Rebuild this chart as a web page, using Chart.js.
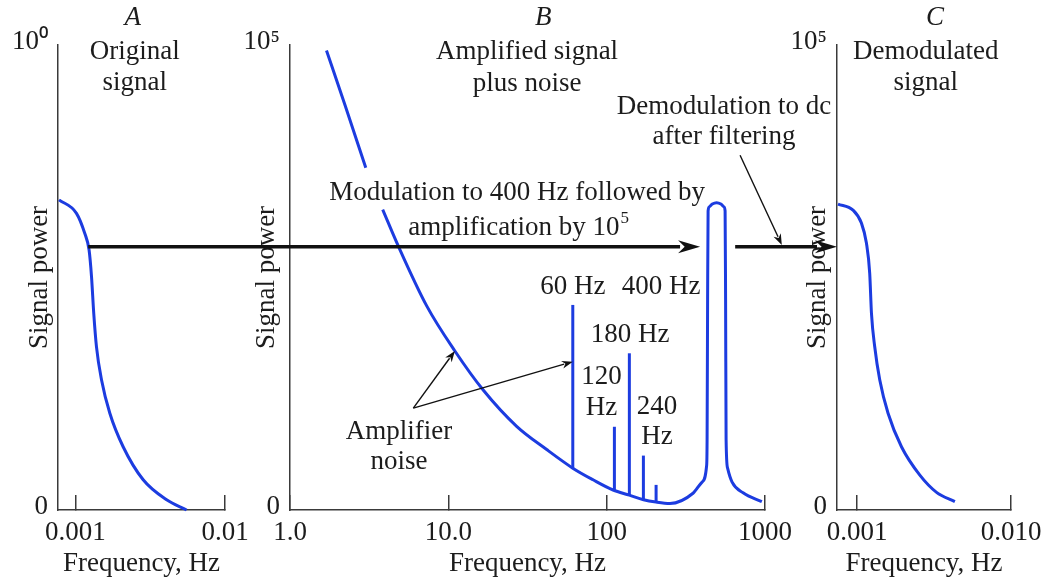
<!DOCTYPE html>
<html><head><meta charset="utf-8">
<script src="https://cdn.jsdelivr.net/npm/chart.js@4.4.0/dist/chart.umd.min.js"></script>
<style>
html,body{margin:0;padding:0;background:#fff;}
#wrap{position:relative;width:1043px;height:581px;overflow:hidden;background:#fff;}
canvas{position:absolute;left:0;top:0;}
</style></head><body>
<div id="wrap">
<canvas id="cA" width="1043" height="581"></canvas>
<canvas id="cB" width="1043" height="581"></canvas>
<canvas id="cC" width="1043" height="581"></canvas>
</div>
<script>
// ---------- data ----------
// Panel A: original signal
const freqA  = [0.000779, 0.001019, 0.001157, 0.001237, 0.001284, 0.001329, 0.001386, 0.001497, 0.001702, 0.002088, 0.002842, 0.004074, 0.005542];
const powerA = [66.7, 63.8, 59.5, 55.9, 50.2, 42.3, 35.1, 28.0, 20.8, 13.6, 6.5, 2.2, 0];

// Panel B: amplified signal plus noise (null = gap behind the label)
const freqB  = [1.70, 2.23, 3.01, 3.40, 3.85, 4.81, 7.30, 11.0, 16.6, 27.0, 41.8, 61.1, 82.0, 109.8, 139, 171, 205, 251, 351, 400.6, 427.7, 430.8, 434.0, 437.1, 444.4, 465.0, 494.8, 526.3, 550.6, 559.8, 563.8, 568.0, 580.5, 619.8, 727, 955];
const powerB = [98.8, 87.0, 73.6, null, 64.6, 56.9, 43.9, 34.2, 25.8, 18.0, 13.0, 9.0, 6.5, 4.3, 3.2, 2.2, 1.7, 1.4, 3.6, 6.0, 9.5, 15.1, 45.2, 64.3, 65.2, 65.8, 66.1, 65.8, 65.2, 64.3, 45.2, 15.1, 9.0, 6.0, 3.7, 1.8];

// Panel B: interference lines
const spikeFreq = [61.1, 111.9, 139.1, 170.6, 205.2];
const spikeBase = [9.0, 4.3, 3.2, 2.2, 1.7];
const spikeTop  = [44.1, 17.9, 33.7, 11.7, 5.4];

// Panel C: demodulated signal
const freqC  = [0.000750, 0.000939, 0.001065, 0.001148, 0.001206, 0.001238, 0.001300, 0.001401, 0.001587, 0.001940, 0.002554, 0.003281, 0.004316];
const powerC = [65.8, 64.5, 61.7, 57.4, 50.9, 42.3, 35.1, 28.0, 20.8, 13.6, 7.5, 3.8, 1.8];

// ticks
const xTicksA = [0.001, 0.01];       const xTickLabelsA = ['0.001', '0.01'];
const xTicksB = [1, 10, 100, 1000];  const xTickLabelsB = ['1.0', '10.0', '100', '1000'];
const xTicksC = [0.001, 0.01];       const xTickLabelsC = ['0.001', '0.010'];
const yTickValues = [0, 100];
const yTickLabelsA = ['0', '10\u2070'];
const yTickLabelsB = ['0', '10\u2075'];
const yTickLabelsC = ['0', '10\u2075'];

// ---------- styling ----------
const BLUE = '#1c3ce0';
const INK = '#1c1c1c';
const AXIS = '#3a3a3a';
const SERIF = '"Liberation Serif", "Times New Roman", serif';
const FS = 27;

function yAxis(labels, width, titlePad) {
  return {
    type: 'linear', min: 0, max: 100, bounds: 'data',
    afterBuildTicks: s => { s.ticks = yTickValues.map(v => ({ value: v })); },
    afterFit: s => { s.width = width; s.paddingTop = 0; s.paddingBottom = 0; },
    ticks: { callback: (v, i) => labels[i], padding: 10, color: INK, autoSkip: false, labelOffset: -3,
             font: { size: FS, family: SERIF } },
    grid: { display: false, drawTicks: false },
    border: { display: true, color: AXIS, width: 1.5 },
    title: { display: true, text: 'Signal power', color: INK, font: { size: FS, family: SERIF },
             padding: { top: titlePad, bottom: 0 } }
  };
}
function xAxis(min, max, ticks, labels) {
  return {
    type: 'logarithmic', min: min, max: max, bounds: 'data',
    afterBuildTicks: s => { s.ticks = ticks.map(v => ({ value: v })); },
    afterFit: s => { s.height = 71; s.paddingLeft = 0; s.paddingRight = 0; },
    ticks: { callback: (v, i) => labels[i], padding: 22, autoSkip: false, maxRotation: 0, minRotation: 0,
             color: INK, font: { size: FS, family: SERIF } },
    grid: { display: true, drawOnChartArea: false, drawTicks: true, tickLength: -15, color: AXIS, lineWidth: 1.5 },
    border: { display: true, color: AXIS, width: 1.5 },
    title: { display: true, text: 'Frequency, Hz', color: INK, font: { size: FS, family: SERIF },
             padding: { top: 0, bottom: 1 } }
  };
}
function lineDs(xs, ys) {
  return {
    data: xs.map((x, i) => ({ x: x, y: ys[i] })),
    borderColor: BLUE, borderWidth: 3, pointRadius: 0, fill: false,
    cubicInterpolationMode: 'monotone', spanGaps: false, clip: false
  };
}
function spikeDs(i) {
  return {
    data: [{ x: spikeFreq[i], y: spikeBase[i] }, { x: spikeFreq[i], y: spikeTop[i] }],
    borderColor: BLUE, borderWidth: 3, pointRadius: 0, fill: false, tension: 0, clip: false
  };
}
function baseOptions(pad, scales) {
  return {
    responsive: false, maintainAspectRatio: false, animation: false, events: [],
    layout: { padding: pad },
    plugins: { legend: { display: false }, tooltip: { enabled: false } },
    scales: scales
  };
}

// ---------- annotations (positions in each panel's data units) ----------
const notes = [
  { p: 'A', x: 0.00242, y: 105.8, t: 'A', italic: true },
  { p: 'A', x: 0.0025, y: 98.5, t: 'Original' },
  { p: 'A', x: 0.0025, y: 91.8, t: 'signal' },
  { p: 'B', x: 39.7, y: 105.8, t: 'B', italic: true },
  { p: 'B', x: 31.4, y: 98.5, t: 'Amplified signal' },
  { p: 'B', x: 31.4, y: 91.6, t: 'plus noise' },
  { p: 'B', x: 27.2, y: 68.2, t: 'Modulation to 400 Hz followed by' },
  { p: 'B', x: 27.6, y: 60.6, t: 'amplification by 10', sup: '5' },
  { p: 'B', x: 551, y: 86.7, t: 'Demodulation to dc' },
  { p: 'B', x: 551, y: 80.2, t: 'after filtering' },
  { p: 'B', x: 61.1, y: 48.0, t: '60 Hz' },
  { p: 'B', x: 220.7, y: 48.0, t: '400 Hz' },
  { p: 'B', x: 140.6, y: 37.6, t: '180 Hz' },
  { p: 'B', x: 92.9, y: 28.6, t: '120' },
  { p: 'B', x: 92.9, y: 21.9, t: 'Hz' },
  { p: 'B', x: 208, y: 22.2, t: '240' },
  { p: 'B', x: 208, y: 15.7, t: 'Hz' },
  { p: 'B', x: 4.88, y: 16.8, t: 'Amplifier' },
  { p: 'B', x: 4.88, y: 10.3, t: 'noise' },
  { p: 'C', x: 0.0032, y: 105.8, t: 'C', italic: true },
  { p: 'C', x: 0.00279, y: 98.5, t: 'Demodulated' },
  { p: 'C', x: 0.00279, y: 91.8, t: 'signal' }
];
const arrows = [
  { from: ['A', 0.00122, 56.6], to: ['B', 389, 56.6], w: 3.5, head: [22, 6.5] },
  { from: ['B', 648, 56.6], to: ['C', 0.000739, 56.6], w: 3.5, head: [22, 6.5] },
  { from: ['B', 696, 76.3], to: ['B', 1277, 57.0], w: 1.4, head: [11, 4] },
  { from: ['B', 6.01, 21.9], to: ['B', 11.0, 34.2], w: 1.4, head: [11, 4] },
  { from: ['B', 6.01, 21.9], to: ['B', 61.1, 31.9], w: 1.4, head: [11, 4] }
];

const charts = {};
function px(name, x, y) {
  const ch = charts[name];
  return [ch.scales.x.getPixelForValue(x), ch.scales.y.getPixelForValue(y)];
}
function drawArrow(ctx, a) {
  const [x1, y1] = px(a.from[0], a.from[1], a.from[2]);
  const [x2, y2] = px(a.to[0], a.to[1], a.to[2]);
  const ang = Math.atan2(y2 - y1, x2 - x1);
  const [hl, hw] = a.head;
  const bx = x2 - hl * Math.cos(ang), by = y2 - hl * Math.sin(ang);
  ctx.save();
  ctx.strokeStyle = '#111'; ctx.fillStyle = '#111'; ctx.lineWidth = a.w;
  ctx.beginPath(); ctx.moveTo(x1, y1); ctx.lineTo(bx + 2 * Math.cos(ang), by + 2 * Math.sin(ang)); ctx.stroke();
  ctx.beginPath();
  ctx.moveTo(x2, y2);
  ctx.lineTo(bx - hw * Math.sin(ang), by + hw * Math.cos(ang));
  ctx.lineTo(bx + 0.3 * hl * Math.cos(ang), by + 0.3 * hl * Math.sin(ang));
  ctx.lineTo(bx + hw * Math.sin(ang), by - hw * Math.cos(ang));
  ctx.closePath(); ctx.fill();
  ctx.restore();
}
const overlay = {
  id: 'overlay',
  afterDraw(chart) {
    charts.C = chart;
    const ctx = chart.ctx;
    ctx.save();
    ctx.fillStyle = INK; ctx.textBaseline = 'middle'; ctx.textAlign = 'left';
    notes.forEach(n => {
      const [x, y] = px(n.p, n.x, n.y);
      const f = (n.italic ? 'italic ' : '') + FS + 'px ' + SERIF;
      ctx.font = f;
      let w = ctx.measureText(n.t).width;
      let sw = 0;
      const sf = '17px ' + SERIF;
      if (n.sup) { ctx.font = sf; sw = ctx.measureText(n.sup).width; }
      const left = x - (w + sw) / 2;
      ctx.font = f; ctx.fillText(n.t, left, y);
      if (n.sup) { ctx.font = sf; ctx.fillText(n.sup, left + w + 1, y - 10); }
    });
    ctx.restore();
    arrows.forEach(a => drawArrow(ctx, a));
  }
};

charts.A = new Chart(document.getElementById('cA'), {
  type: 'line',
  data: { datasets: [lineDs(freqA, powerA)] },
  options: baseOptions({ left: 0, right: 818, top: 45, bottom: 0 }, {
    x: xAxis(0.000767, 0.01, xTicksA, xTickLabelsA),
    y: yAxis(yTickLabelsA, 58, 24)
  })
});
charts.B = new Chart(document.getElementById('cB'), {
  type: 'line',
  data: { datasets: [lineDs(freqB, powerB)].concat(spikeFreq.map((f, i) => spikeDs(i))) },
  options: baseOptions({ left: 230, right: 278, top: 45, bottom: 0 }, {
    x: xAxis(1, 1000, xTicksB, xTickLabelsB),
    y: yAxis(yTickLabelsB, 60, 21)
  })
});
charts.C = new Chart(document.getElementById('cC'), {
  type: 'line',
  data: { datasets: [lineDs(freqC, powerC)] },
  options: baseOptions({ left: 777, right: 32, top: 45, bottom: 0 }, {
    x: xAxis(0.000739, 0.01, xTicksC, xTickLabelsC),
    y: yAxis(yTickLabelsC, 60, 25)
  }),
  plugins: [overlay]
});
</script>
</body></html>
